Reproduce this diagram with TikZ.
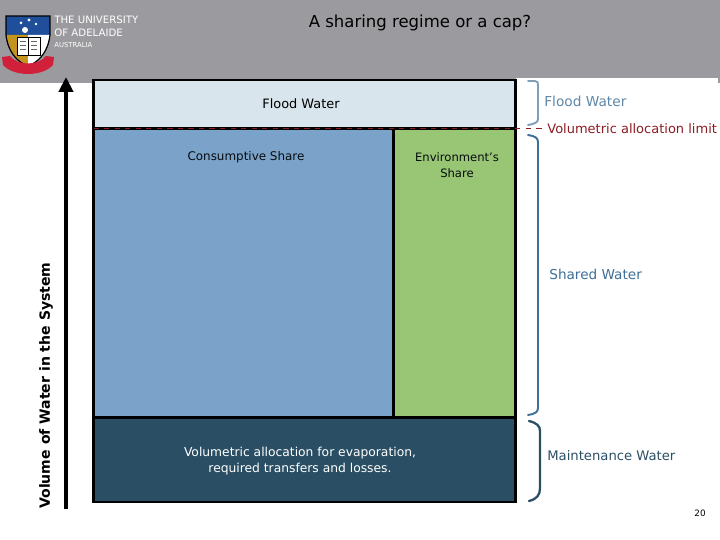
\documentclass[tikz,border=0pt]{standalone}
\usepackage{fontspec}
\usepackage{tikz}
\usepackage{xcolor}
\setmainfont{DejaVu Sans}
\usetikzlibrary{positioning,arrows.meta}
\definecolor{headgray}{HTML}{9B9B9F}
\definecolor{floodfill}{HTML}{D8E5EC}
\definecolor{shareblue}{HTML}{7BA3CA}
\definecolor{sharegreen}{HTML}{98C674}
\definecolor{maintdark}{HTML}{2A4F64}
\definecolor{floodtext}{HTML}{5F87A6}
\definecolor{sharetext}{HTML}{3F6F96}
\definecolor{limitred}{HTML}{8C1C24}
\definecolor{crestblue}{HTML}{1F4E9A}
\definecolor{crestgold}{HTML}{C4941E}
\definecolor{crestred}{HTML}{D0203A}
\tikzset{
  block/.style={draw=black,line width=1.4pt,inner sep=0pt,outer sep=0pt,anchor=north west},
  inlabel/.style={font=\fontsize{7}{9.1}\selectfont,align=center,inner sep=0pt,text=black!85!maintdark},
  sidelabel/.style={font=\fontsize{7.5}{9}\selectfont,anchor=west,inner sep=0pt},
  crestword/.style={font=\fontsize{5.8}{7}\selectfont,text=white,anchor=west,inner sep=0pt},
  brace/.style={line width=1.1pt,line cap=round}
}
\begin{document}
\begin{tikzpicture}[x=0.02cm,y=-0.02cm]
\useasboundingbox (0,0) rectangle (720,540);
\fill [headgray] (0,0) rectangle (720,78);
\fill [headgray] (0,78) rectangle (93,83);
\fill [headgray] (93,78) rectangle (516,81);
\fill [headgray] (718,78) rectangle (720,83);
% crest
\fill [crestblue] (6,16) rectangle (50,35);
\fill [crestgold] (7,35) -- (28,35) -- (28,66) .. controls (17,62) and (9,52) .. (7,35) -- cycle;
\fill [white] (28,35) -- (50,35) .. controls (48,52) and (39,62) .. (28,66) -- cycle;
\draw [black,line width=0.7pt] (6,16) -- (50,16) -- (50,35) .. controls (48,52) and (39,62) .. (28,66) .. controls (17,62) and (8,52) .. (6,35) -- cycle;
\fill [white] (21,23) circle (1.5) (29,20) circle (1.6) (36,24) circle (1.3) (25,30) circle (3);
\draw [black,fill=white,line width=0.5pt] (17,37) rectangle (40,55);
\draw [black,line width=0.5pt] (28.5,37) -- (28.5,55);
\draw [black!60,line width=0.3pt] (20,41) -- (26,41) (20,45) -- (26,45) (20,49) -- (26,49) (31,41) -- (37,41) (31,45) -- (37,45) (31,49) -- (37,49);
\fill [crestred] (2,57) -- (10,56) .. controls (18,66) and (38,66) .. (46,56) -- (54,57) -- (53,65) .. controls (42,77) and (14,77) .. (3,65) -- cycle;
\node [crestword] (crestone) at (54,20) {THE UNIVERSITY};
\node [crestword] (cresttwo) at (54,33) {OF ADELAIDE};
\node [crestword,font=\fontsize{3.9}{5}\selectfont] (crestthree) at (54,45) {AUSTRALIA};
\node [font=\fontsize{9.4}{11}\selectfont,text=black,inner sep=0pt] (title) at (420,23) {A sharing regime or a cap?};
% blocks
\node [block,fill=floodfill,minimum width=0.02cm*422,minimum height=0.02cm*48.5] (flood) at (93.5,80) {};
\node [block,fill=shareblue,minimum width=0.02cm*300,minimum height=0.02cm*289] (consume) at (93.5,128.5) {};
\node [block,fill=sharegreen,minimum width=0.02cm*122,minimum height=0.02cm*289] (environ) at (393.5,128.5) {};
\node [block,fill=maintdark,minimum width=0.02cm*422,minimum height=0.02cm*84.5] (maint) at (93.5,417.5) {};
\node [inlabel,font=\fontsize{7.35}{9}\selectfont,text=black] (floodtxt) at (301,104) {Flood Water};
\node [inlabel,font=\fontsize{6.8}{9}\selectfont] (consumetxt) at (246,157) {Consumptive Share};
\node [inlabel,font=\fontsize{6.6}{9}\selectfont] (environtxt) at (457,165) {Environment's\\Share};
\node [inlabel,text=white] (mainttxt) at (300,461.5) {Volumetric allocation for evaporation,\\required transfers and losses.};
% axis
\coordinate (axisfoot) at (66,509);
\coordinate (axistop) at (66,77);
\draw [black,line width=2.3pt,-{Triangle[length=8.5pt,width=8pt]}] (axisfoot) -- (axistop);
\node [rotate=90,font=\bfseries\fontsize{8}{10}\selectfont,anchor=west,inner sep=0pt] (axistxt) at (46,509) {Volume of Water in the System};
% limit line
\node [sidelabel,text=limitred,font=\fontsize{7.4}{9}\selectfont] (limittxt) at (547,128.5) {Volumetric allocation limit};
\coordinate (limitstart) at (93.5,128.5);
\draw [limitred,line width=0.9pt,dashed,shorten >=1.5pt] (limitstart) -- (limittxt.west);
% braces
\draw [brace,draw=floodtext!80] (528,81) -- (535,81) .. controls (538,81) and (538,83) .. (538,86) -- (538,119) .. controls (538,122) and (535,124) .. (528,125);
\draw [brace,draw=sharetext] (528,135) .. controls (535,136) and (538,138) .. (538,142) -- (538,408) .. controls (538,412) and (535,414) .. (528,415);
\draw [brace,draw=maintdark,line width=1.3pt] (529,421) .. controls (537,423) and (540,426) .. (540,431) -- (540,488) .. controls (540,495) and (537,499) .. (529,501);
\node [sidelabel,text=floodtext,font=\fontsize{7.8}{9}\selectfont] (floodside) at (544,101) {Flood Water};
\node [sidelabel,text=sharetext,font=\fontsize{7.75}{9}\selectfont] (shareside) at (549,274) {Shared Water};
\node [sidelabel,text=maintdark] (maintside) at (547,456) {Maintenance Water};
\node [font=\fontsize{5}{6}\selectfont,inner sep=0pt] (pagenum) at (700,513) {20};
\end{tikzpicture}
\end{document}
